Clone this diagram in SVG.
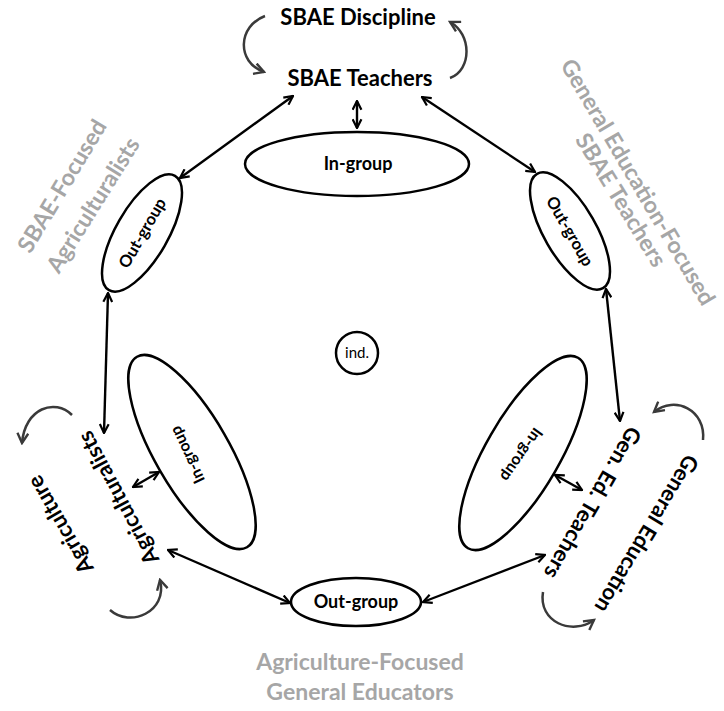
<svg xmlns="http://www.w3.org/2000/svg" width="724" height="711" viewBox="0 0 724 711">
<style>
.t{font-family:Lato,"Liberation Sans",sans-serif;font-weight:bold;fill:#000;text-anchor:middle}
.g{font-family:Lato,"Liberation Sans",sans-serif;font-weight:bold;fill:#a6a6a6;text-anchor:middle;font-size:23px}
.el{fill:#fff;stroke:#000;stroke-width:2.5}
.c{fill:none;stroke:#000;stroke-width:2.4;marker-start:url(#ah);marker-end:url(#ah)}
.cv{fill:none;stroke:#3a3a3a;stroke-width:2.5;marker-end:url(#ag)}
</style>
<defs>
<marker id="ah" viewBox="0 0 10 10" refX="9" refY="5" markerWidth="11" markerHeight="11" markerUnits="userSpaceOnUse" orient="auto-start-reverse">
<path d="M1,1 L9,5 L1,9" fill="none" stroke="#000" stroke-width="2"/>
</marker>
<marker id="ag" viewBox="0 0 12 12" refX="10" refY="6" markerWidth="13" markerHeight="13" markerUnits="userSpaceOnUse" orient="auto">
<path d="M1,1 L10,6 L1,11" fill="none" stroke="#3a3a3a" stroke-width="2.2"/>
</marker>
</defs>
<rect width="724" height="711" fill="#fff"/>

<g id="connectors">
<path class="c" d="M357,101 L357,128"/>
<path class="c" d="M293,96 L180,178"/>
<path class="c" d="M422,97 L535,172"/>
<path class="c" d="M108,293 L104,433"/>
<path class="c" d="M606,289 L620,421"/>
<path class="c" d="M168,550 L290,603"/>
<path class="c" d="M545,555 L423,602"/>
<path class="c" d="M159,472 L133,487"/>
<path class="c" d="M555,475 L582,490"/>
<path class="cv" d="M265,16 C238,26 236,62 264,72"/>
<path class="cv" d="M450,78 C472,70 472,34 450,22"/>
<path class="cv" d="M72,415 C55,398 25,408 22,443"/>
<path class="cv" d="M110,610 C130,628 168,612 160,580"/>
<path class="cv" d="M703,440 C706,410 675,395 654,412"/>
<path class="cv" d="M543,592 C538,622 572,636 594,620"/>
</g>

<g id="sbae-discipline"><text class="t" x="358" y="25" font-size="22">SBAE Discipline</text></g>
<g id="sbae-teachers"><text class="t" x="360" y="86" font-size="22">SBAE Teachers</text></g>

<g id="ingroup-top">
<ellipse class="el" cx="357" cy="164" rx="112" ry="32"/>
<text class="t" x="358" y="170" font-size="18">In-group</text>
</g>

<g id="outgroup-left" transform="translate(142,233) rotate(-60)">
<ellipse class="el" cx="0" cy="0" rx="66" ry="26"/>
<text class="t" x="0" y="6" font-size="16.5">Out-group</text>
</g>

<g id="outgroup-right" transform="translate(570,231) rotate(60)">
<ellipse class="el" cx="0" cy="0" rx="66" ry="26"/>
<text class="t" x="0" y="6" font-size="16.5">Out-group</text>
</g>

<g id="ingroup-left">
<ellipse class="el" cx="0" cy="0" rx="110" ry="37" transform="translate(192,452) rotate(60)"/>
<text class="t" x="0" y="6" font-size="16" transform="translate(187,455) rotate(-115)">In-group</text>
</g>

<g id="ingroup-right">
<ellipse class="el" cx="0" cy="0" rx="110" ry="37" transform="translate(523,453) rotate(-60)"/>
<text class="t" x="0" y="6" font-size="16" transform="translate(522,455) rotate(125)">In-group</text>
</g>

<g id="individual">
<circle class="el" cx="357" cy="353" r="21"/>
<text x="357" y="358" font-size="15" font-family="Lato,'Liberation Sans',sans-serif" text-anchor="middle" fill="#000">ind.</text>
</g>

<g id="outgroup-bottom">
<ellipse class="el" cx="356" cy="602" rx="65" ry="24"/>
<text class="t" x="356" y="608" font-size="18">Out-group</text>
</g>

<g id="agriculturalists"><text class="t" x="0" y="8" font-size="22" transform="translate(118,498) rotate(-118)">Agriculturalists</text></g>
<g id="agriculture"><text class="t" x="0" y="8" font-size="22" transform="translate(60,525) rotate(-120)">Agriculture</text></g>
<g id="gen-ed-teachers"><text class="t" x="0" y="8" font-size="22" transform="translate(593,503) rotate(120)">Gen. Ed. Teachers</text></g>
<g id="general-education"><text class="t" x="0" y="8" font-size="22" transform="translate(647,534) rotate(121)">General Education</text></g>

<g id="label-sbae-focused">
<text class="g" x="0" y="8" transform="translate(62,186) rotate(-59)">SBAE-Focused</text>
<text class="g" x="0" y="8" transform="translate(93,205) rotate(-58)">Agriculturalists</text>
</g>
<g id="label-gened-focused">
<text class="g" x="0" y="8" font-size="21" transform="translate(638,182) rotate(59.5)">General Education-Focused</text>
<text class="g" x="0" y="8" transform="translate(621,200) rotate(58.5)">SBAE Teachers</text>
</g>
<g id="label-agri-focused">
<text class="g" x="360" y="670">Agriculture-Focused</text>
<text class="g" x="360" y="700">General Educators</text>
</g>
</svg>
